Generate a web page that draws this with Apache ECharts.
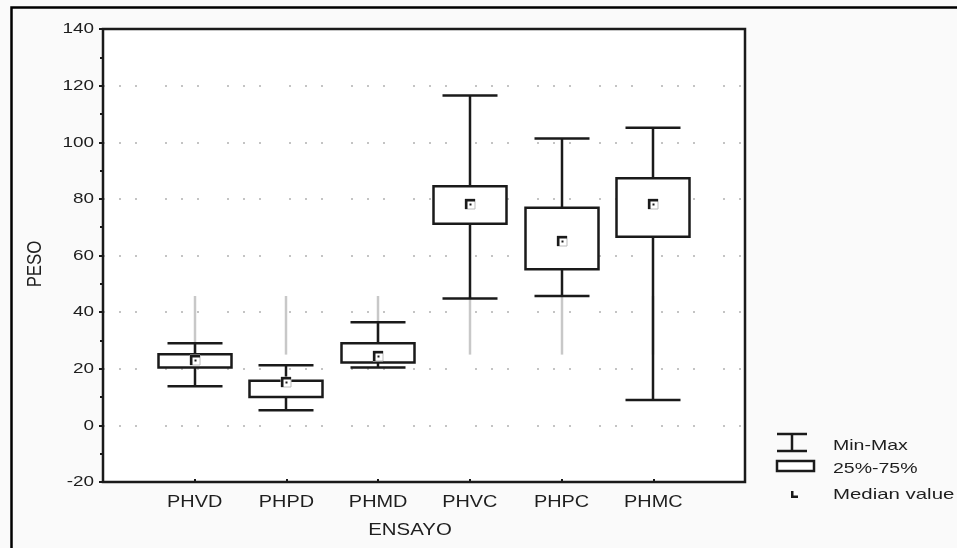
<!DOCTYPE html>
<html>
<head>
<meta charset="utf-8">
<script src="https://cdn.jsdelivr.net/npm/echarts@6/dist/echarts.min.js"></script>
<style>
  html, body { margin: 0; padding: 0; background: #fafafa; }
  #chart { width: 957px; height: 548px; }
</style>
</head>
<body>
<div id="chart"></div>
<script>
const categories = ['PHVD', 'PHPD', 'PHMD', 'PHVC', 'PHPC', 'PHMC']
const minVals = [13.8, 5.3, 20.4, 44.8, 45.7, 9.0]
const q1Vals = [20.4, 10.0, 22.2, 71.2, 55.1, 66.6]
const medianVals = [23.1, 15.2, 24.6, 78.1, 65.2, 78.1]
const q3Vals = [25.1, 15.8, 29.0, 84.5, 76.9, 87.3]
const maxVals = [29.0, 21.2, 36.4, 116.5, 101.3, 105.1]
// faint grey range drawn behind each box
const greyLow = [25, 25, 25, 25, 25, 25]
const greyHigh = [45.7, 45.7, 45.7, 45.7, 45.7, 45.7]
const yTicks = [-20, 0, 20, 40, 60, 80, 100, 120, 140]

const ink = '#1a1a1a'
const textColor = '#1e1e1e'
const font = 'Liberation Sans, Arial, sans-serif'

const catPos = categories.map((c, i) => i + 1)
const boxData = categories.map((c, i) => [i + 1, minVals[i], q1Vals[i], medianVals[i], q3Vals[i], maxVals[i]])
const greyData = categories.map((c, i) => [i + 1, greyLow[i], greyHigh[i]])

const chart = echarts.init(document.getElementById('chart'))

function renderBox(params, api) {
    const x = api.value(0)
    const pMin = api.coord([x, api.value(1)])
    const pQ1 = api.coord([x, api.value(2)])
    const pMed = api.coord([x, api.value(3)])
    const pQ3 = api.coord([x, api.value(4)])
    const pMax = api.coord([x, api.value(5)])
    const cx = Math.round(pMin[0])
    const boxW = 73, capW = 55, m = 10
    const line = { stroke: ink, lineWidth: 2.5 }
    const mx = cx - m / 2, my = Math.round(pMed[1]) - m / 2
    return {
        type: 'group',
        children: [
            { type: 'line', shape: { x1: cx, y1: pMax[1], x2: cx, y2: pMin[1] }, style: line },
            { type: 'line', shape: { x1: cx - capW / 2, y1: pMax[1], x2: cx + capW / 2, y2: pMax[1] }, style: line },
            { type: 'line', shape: { x1: cx - capW / 2, y1: pMin[1], x2: cx + capW / 2, y2: pMin[1] }, style: line },
            { type: 'rect', shape: { x: cx - boxW / 2, y: pQ3[1], width: boxW, height: pQ1[1] - pQ3[1] },
              style: { fill: '#fff', stroke: ink, lineWidth: 2.5 } },
            // median marker: white square with a dark L on top-left and a dot
            { type: 'rect', shape: { x: mx, y: my, width: m, height: m }, style: { fill: '#fff', stroke: '#bbb', lineWidth: 1 } },
            { type: 'rect', shape: { x: mx, y: my, width: m, height: 2.5 }, style: { fill: ink } },
            { type: 'rect', shape: { x: mx, y: my, width: 2.5, height: m }, style: { fill: ink } },
            { type: 'rect', shape: { x: mx + 4.5, y: my + 4.5, width: 2, height: 2 }, style: { fill: ink } }
        ]
    }
}

function renderGrey(params, api) {
    const x = api.value(0)
    const a = api.coord([x, api.value(1)])
    const b = api.coord([x, api.value(2)])
    return { type: 'line', shape: { x1: Math.round(a[0]), y1: a[1], x2: Math.round(a[0]), y2: b[1] },
             style: { stroke: '#c8c8c8', lineWidth: 2.5 } }
}

// the original's text is drawn wide, so labels get a horizontal stretch
function label(txt, x, y, size, sx, align, rot) {
    return { type: 'text', x: x, y: y, scaleX: sx, scaleY: 1, rotation: rot || 0, silent: true,
             style: { text: txt, fill: textColor, font: size + 'px ' + font, align: align, verticalAlign: 'middle' } }
}

const legendX = 777
chart.setOption({
    backgroundColor: '#fafafa',
    animation: false,
    grid: {
        left: 103, top: 29, right: 212, bottom: 66,
        show: true, backgroundColor: '#fff', borderColor: ink, borderWidth: 2
    },
    xAxis: {
        type: 'value', min: 0, max: 7,
        axisLine: { show: true, onZero: false, lineStyle: { color: ink, width: 2 } },
        axisTick: { show: true, inside: true, length: 3, customValues: catPos, lineStyle: { color: ink, width: 2 } },
        axisLabel: { show: false },
        splitLine: { show: false }
    },
    yAxis: {
        type: 'value', min: -20, max: 140, interval: 20,
        axisLine: { show: true, onZero: false, lineStyle: { color: ink, width: 2 } },
        axisTick: { show: true, length: 4, lineStyle: { color: ink, width: 2 } },
        minorTick: { show: true, splitNumber: 2, length: 3, lineStyle: { color: ink, width: 2 } },
        axisLabel: { show: false },
        splitLine: {
            show: true, showMinLine: false, showMaxLine: false,
            lineStyle: { color: '#c4c4c4', width: 2, type: [2, 14, 2, 14, 2, 28] }
        }
    },
    series: [
        { type: 'custom', renderItem: renderGrey, data: greyData, z: 1, silent: true },
        { type: 'custom', renderItem: renderBox, data: boxData, z: 2, silent: true }
    ]
})

// tick labels placed through the chart's own scales
const texts = []
catPos.forEach((v, i) => {
    const px = chart.convertToPixel({ xAxisIndex: 0 }, v)
    texts.push(label(categories[i], px, 502, 17, 1.17, 'center'))
})
yTicks.forEach(v => {
    const py = chart.convertToPixel({ yAxisIndex: 0 }, v)
    texts.push(label(String(v), 94, py, 15.5, 1.22, 'right'))
})
texts.push(label('ENSAYO', 410, 530, 17, 1.2, 'center'))
texts.push(label('PESO', 35, 264, 20, 0.84, 'center', Math.PI / 2))

chart.setOption({
    graphic: [
        { type: 'rect', left: 9, top: 5, shape: { width: 960, height: 560 }, style: { fill: 'none', stroke: '#000', lineWidth: 2.5 }, z: 0, silent: true },
        { type: 'rect', shape: { x: 103, y: 29, width: 642, height: 453 }, style: { fill: 'none', stroke: ink, lineWidth: 2.5 }, z: 10, silent: true },
        ...texts,
        // legend
        { type: 'line', shape: { x1: legendX, y1: 434, x2: legendX + 30, y2: 434 }, style: { stroke: ink, lineWidth: 2.5 } },
        { type: 'line', shape: { x1: legendX, y1: 451, x2: legendX + 30, y2: 451 }, style: { stroke: ink, lineWidth: 2.5 } },
        { type: 'line', shape: { x1: legendX + 15, y1: 434, x2: legendX + 15, y2: 451 }, style: { stroke: ink, lineWidth: 2.5 } },
        label('Min-Max', 833, 446, 15, 1.3, 'left'),
        { type: 'rect', shape: { x: legendX, y: 461, width: 37, height: 10 }, style: { fill: '#fff', stroke: ink, lineWidth: 2.5 } },
        label('25%-75%', 833, 469, 15, 1.3, 'left'),
        { type: 'rect', shape: { x: legendX + 14, y: 491, width: 7, height: 7 }, style: { fill: ink } },
        { type: 'rect', shape: { x: legendX + 16.5, y: 491, width: 4.5, height: 4.5 }, style: { fill: '#fff' } },
        label('Median value', 833, 495, 15, 1.36, 'left')
    ]
})
</script>
</body>
</html>
